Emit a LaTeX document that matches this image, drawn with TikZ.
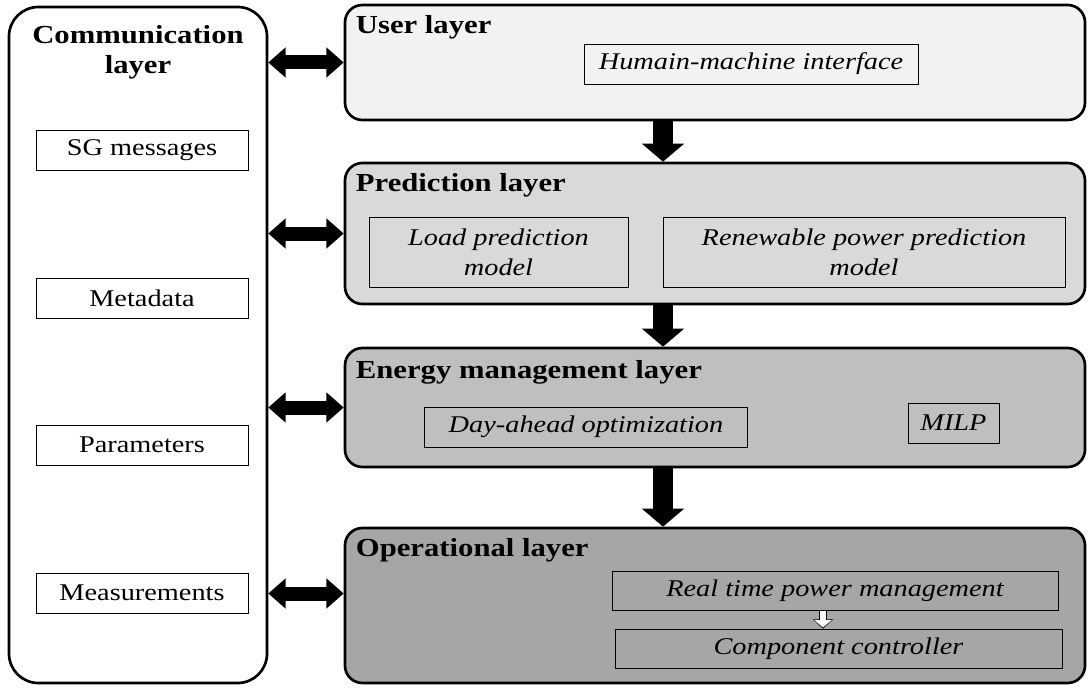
\documentclass[tikz,border=0pt]{standalone}
\usepackage{fontspec}
\setmainfont[FakeStretch=1.18]{Liberation Serif}
\usetikzlibrary{arrows.meta, positioning}

\begin{document}
\begin{tikzpicture}[x=0.75pt, y=-0.75pt,
    layer/.style={draw, line width=2pt, rounded corners=13pt, minimum width=555pt, inner sep=0pt},
    comp/.style={draw, line width=0.6pt, inner sep=0pt, minimum height=30pt, align=center, font=\fontsize{18}{22.5}\selectfont\itshape},
    msg/.style={draw, line width=0.6pt, minimum width=159pt, minimum height=30pt, font=\fontsize{18}{22.5}\selectfont},
    title/.style={inner sep=0pt, font=\fontsize{19.5}{22.5}\selectfont\bfseries},
    dbl/.style={{Triangle[width=22pt, length=13pt]}-{Triangle[width=22pt, length=13pt]}, line width=10.5pt},
    down/.style={-{Triangle[width=31pt, length=13.5pt]}, line width=15pt},
    hollowout/.style={-{Triangle[width=15pt, length=7pt]}, line width=6pt},
    hollowin/.style={-{Triangle[width=12.6pt, length=5.4pt]}, line width=4.8pt, white, shorten >=0.9pt, shorten <=0.3pt}]

  \useasboundingbox (0,0) rectangle (1092,688);

  % Communication layer
  \node[draw, line width=2pt, rounded corners=22pt, minimum width=193.5pt, minimum height=507pt] (comm) at (138,345) {};
  \node[title, align=center, anchor=north] (commtitle) at (138,25) {Communication\\layer};
  \node[msg] (sg) at (142,150) {SG messages};
  \node[msg] (meta) at (142,298) {Metadata};
  \node[msg] (param) at (142,445) {Parameters};
  \node[msg] (meas) at (142,593) {Measurements};

  % User layer
  \node[layer, fill=black!5, minimum height=86.25pt] (user) at (715,62.5) {};
  \node[title, anchor=base west] (usertitle) at ([shift={(12,30)}]user.north west) {User layer};
  \node[comp, minimum width=250.5pt] (hmi) at (751,64) {Humain-machine interface};

  % Prediction layer
  \node[layer, fill=black!15, minimum height=105.75pt] (pred) at (715,233.5) {};
  \node[title, anchor=base west] (predtitle) at ([shift={(12,30)}]pred.north west) {Prediction layer};
  \node[comp, minimum width=194.25pt, minimum height=52.5pt] (load) at (498.5,252) {Load prediction\\model};
  \node[comp, minimum width=301.5pt, minimum height=52.5pt] (renew) at (864,252) {Renewable power prediction\\model};

  % Energy management layer
  \node[layer, fill=black!25, minimum height=89.25pt] (energy) at (715,407.5) {};
  \node[title, anchor=base west] (energytitle) at ([shift={(12,32)}]energy.north west) {Energy management layer};
  \node[comp, minimum width=242.25pt] (dayahead) at (586,427) {Day-ahead optimization};
  \node[comp, minimum width=68.25pt] (milp) at (953.5,423) {MILP};

  % Operational layer
  \node[layer, fill=black!35, minimum height=116.25pt] (op) at (715,605.5) {};
  \node[title, anchor=base west] (optitle) at ([shift={(12,30)}]op.north west) {Operational layer};
  \node[comp, minimum width=334.5pt, minimum height=29.25pt] (rtpm) at (835,590.5) {Real time power management};
  \node[comp, minimum width=335.25pt, minimum height=29.25pt] (ctrl) at (838.5,648.5) {Component controller};

  % arrows between layers
  \coordinate (axis) at (663,0);
  \draw[down] (user.south -| axis) -- (pred.north -| axis);
  \draw[down] (pred.south -| axis) -- (energy.north -| axis);
  \draw[down] (energy.south -| axis) -- (op.north -| axis);

  % arrows to the communication layer
  \coordinate (opin) at ([yshift=9pt]op.west);
  \draw[dbl] (comm.east |- user.west) -- (user.west);
  \draw[dbl] (comm.east |- pred.west) -- (pred.west);
  \draw[dbl] (comm.east |- energy.west) -- (energy.west);
  \draw[dbl] (comm.east |- opin) -- (opin);

  % inside the operational layer
  \coordinate (hx) at (823,0);
  \draw[hollowout] (rtpm.south -| hx) -- (ctrl.north -| hx);
  \draw[hollowin] (rtpm.south -| hx) -- (ctrl.north -| hx);
\end{tikzpicture}
\end{document}
